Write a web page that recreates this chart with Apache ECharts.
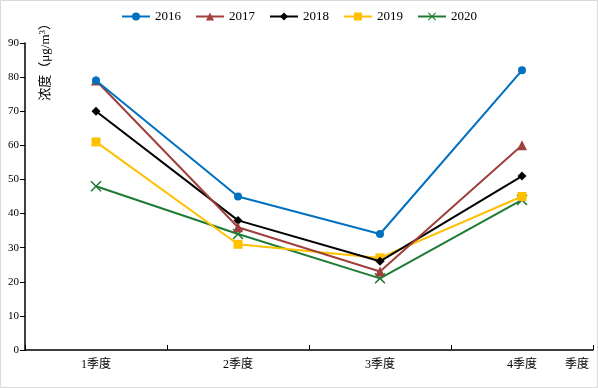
<!DOCTYPE html>
<html><head><meta charset="utf-8">
<script src="https://cdn.jsdelivr.net/npm/echarts@6/dist/echarts.min.js"></script>
<style>html,body{margin:0;padding:0;background:#fff}#c{width:598px;height:388px}</style>
</head><body><div id="c"></div>
<script>
const categories = ['1季度','2季度','3季度','4季度'];
const seriesNames = ['2016','2017','2018','2019','2020'];
const v2016 = [79, 45, 34, 82];
const v2017 = [79, 36, 23, 60];
const v2018 = [70, 38, 26, 51];
const v2019 = [61, 31, 27, 45];
const v2020 = [48, 34, 21, 44];
const yTicks = [0,10,20,30,40,50,60,70,80,90];

const values = [v2016, v2017, v2018, v2019, v2020];
const colors = ['#0070C0','#A0403C','#000000','#FFC000','#1E7B34'];
const symbols = ['circle','triangle','diamond','rect','path://M0,1 L1,0 L5,4 L9,0 L10,1 L6,5 L10,9 L9,10 L5,6 L1,10 L0,9 L4,5 Z'];
const sizes = [8,10,9,9,11];
const serif = '"Liberation Serif","Times New Roman",serif';
const cjk = '"Liberation Serif","Noto Sans CJK SC",serif';

const chart = echarts.init(document.getElementById('c'));
chart.setOption({
  animation:false,
  backgroundColor:'#fff',
  legend:{
    top:5, left:'center', itemWidth:28, itemHeight:10, itemGap:14,
    textStyle:{fontFamily:serif,fontSize:13,color:'#000'},
    data:seriesNames
  },
  grid:{left:25,right:5,top:43,bottom:38,outerBoundsMode:'none',containLabel:false},
  xAxis:{
    type:'category', data:categories, boundaryGap:true,
    name:'季度', nameLocation:'end', nameGap:-16,
    nameTextStyle:{fontFamily:cjk,fontSize:12,color:'#000',align:'center',verticalAlign:'top',padding:[9,0,0,0]},
    axisLine:{lineStyle:{color:'#000',width:1.5}},
    axisTick:{show:true,inside:true,length:5,alignWithLabel:false,lineStyle:{color:'#000'}},
    axisLabel:{fontFamily:cjk,fontSize:12,color:'#000',margin:9},
    splitLine:{show:false}
  },
  yAxis:{
    type:'value', min:0, max:90, interval:10,
    axisLine:{show:true,lineStyle:{color:'#000',width:1.5}},
    axisTick:{show:true,length:5,lineStyle:{color:'#000'}},
    axisLabel:{fontFamily:serif,fontSize:11,color:'#000',margin:6,
      formatter:function(v){return yTicks.indexOf(v)>=0?String(v):'';}},
    splitLine:{show:false}
  },
  graphic:[{
    type:'rect', silent:true, z:100,
    shape:{x:0.5,y:0.5,width:597,height:387},
    style:{fill:'none',stroke:'#d9d9d9',lineWidth:1}
  },{
    type:'text', left:38, top:17, rotation:Math.PI/2,
    style:{
      text:'{a|浓度（μg/m}{s|3}{a|）}',
      rich:{
        a:{fontFamily:cjk,fontSize:13,fill:'#000'},
        s:{fontFamily:serif,fontSize:9,fill:'#000',verticalAlign:'top',padding:[0,0,6,0]}
      }
    }
  }],
  series: seriesNames.map(function(n,i){return {
    name:n, type:'line', data:values[i],
    symbol:symbols[i], symbolSize:sizes[i], showSymbol:true,
    lineStyle:{color:colors[i],width:2},
    itemStyle:{color:colors[i]},
    z: 10-i
  };})
});
</script></body></html>
